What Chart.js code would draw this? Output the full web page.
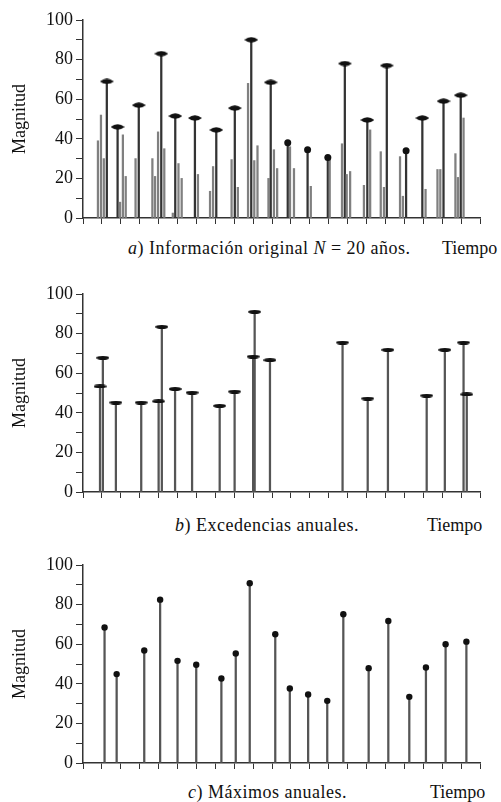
<!DOCTYPE html>
<html>
<head>
<meta charset="utf-8">
<script src="https://cdn.jsdelivr.net/npm/chart.js@4.4.0/dist/chart.umd.min.js"></script>
<style>
  body { margin: 0; background: #fff; width: 501px; height: 802px; position: relative; overflow: hidden;
         font-family: "Liberation Serif", "DejaVu Serif", serif; color: #111; }
  .box { position: absolute; left: 0; width: 501px; height: 232px; }
  .cap { position: absolute; font-size: 18px; white-space: nowrap; line-height: 1; letter-spacing: 0.5px; }
  .t { position: absolute; font-size: 18px; white-space: nowrap; line-height: 1; }
</style>
</head>
<body>
<div class="box" style="top:0"><canvas id="chart-a"></canvas></div>
<div class="box" style="top:274px"><canvas id="chart-b"></canvas></div>
<div class="box" style="top:545px"><canvas id="chart-c"></canvas></div>

<div class="cap" style="left:128px;top:239px"><i>a</i>) Información original <i>N</i> = 20 años.</div>
<div class="t" style="left:442px;top:239px">Tiempo</div>
<div class="cap" style="left:175px;top:516px"><i>b</i>) Excedencias anuales.</div>
<div class="t" style="left:427px;top:516px">Tiempo</div>
<div class="cap" style="left:188px;top:783px"><i>c</i>) Máximos anuales.</div>
<div class="t" style="left:430px;top:783px">Tiempo</div>

<script>
// a) todos los eventos (tiempo en años, magnitud)
const eventTimes = [
  0.29, 0.45, 0.60, 0.76,   1.33, 1.46, 1.61, 1.76,   2.28, 2.45,
  3.17, 3.31, 3.47, 3.64, 3.80,   4.25, 4.38, 4.55, 4.72,   5.42, 5.58,
  6.22, 6.38, 6.55,   7.36, 7.53, 7.69,   8.23, 8.40, 8.56, 8.73,
  9.31, 9.43, 9.60, 9.77,   10.33, 10.45, 10.66,   11.38, 11.55,   12.45, 12.55,
  13.20, 13.35, 13.45, 13.63,   14.36, 14.54, 14.69,   15.25, 15.42, 15.57,
  16.27, 16.42, 16.59,   17.45, 17.62,   18.25, 18.40, 18.57,   19.20, 19.33, 19.48, 19.63
];
const eventValues = [
  39, 52, 30, 69,   46, 8, 42, 21,   30, 57,
  30, 21, 43.5, 83, 35,   2.5, 51.5, 27.5, 20,   50.5, 22,
  13.5, 26, 44.5,   29.5, 55.5, 15.5,   68, 90, 29, 36.5,
  20, 68.5, 34.5, 25,   38, 36, 25,   34.5, 16,   30.5, 30,
  37.5, 78, 22, 23.5,   16.5, 49.5, 44.5,   33.5, 15.5, 77,
  31, 11, 34,   50.5, 14.5,   24.5, 24.5, 59,   32.5, 20.5, 62, 50.5
];
// a) máximo de cada año y su marca
const peakTimes  = [0.76, 1.33, 2.45, 3.64, 4.38, 5.42, 6.55, 7.53, 8.40, 9.43,
                    10.33, 11.38, 12.45, 13.35, 14.54, 15.57, 16.59, 17.45, 18.57, 19.48];
const peakValues = [69, 46, 57, 83, 51.5, 50.5, 44.5, 55.5, 90, 68.5,
                    38, 34.5, 30.5, 78, 49.5, 77, 34, 50.5, 59, 62];
const peakMarks  = ['lens', 'lens', 'lens', 'lens', 'lens', 'lens', 'lens', 'lens', 'lens', 'lens',
                    'dot', 'dot', 'dot', 'lens', 'lens', 'lens', 'dot', 'lens', 'lens', 'lens'];

// b) excedencias anuales
const excTimes  = [0.40, 0.55, 1.24, 2.58, 3.50, 3.67, 4.37, 5.27, 6.73, 7.52,
                   8.50, 8.58, 9.39, 13.23, 14.56, 15.63, 17.68, 18.64, 19.63, 19.80];
const excValues = [53.3, 67.8, 45.2, 45.2, 45.8, 83.4, 52, 50.2, 43.5, 50.7,
                   68.4, 91, 66.6, 75.5, 47.2, 71.8, 48.7, 71.8, 75.5, 49.3];

// c) máximos anuales
const maxTimes  = [0.64, 1.28, 2.74, 3.58, 4.50, 5.49, 6.82, 7.58, 8.32, 9.67,
                   10.44, 11.41, 12.42, 13.27, 14.61, 15.65, 16.76, 17.64, 18.68, 19.78];
const maxValues = [68.4, 44.9, 56.8, 82.5, 51.6, 49.6, 42.7, 55.3, 90.8, 65,
                   37.6, 34.6, 31.4, 75.1, 47.9, 71.7, 33.4, 48.2, 60, 61.3];

const serif = '"Liberation Serif", "DejaVu Serif", serif';

function lensMark(w, h, pointed) {
  const c = document.createElement('canvas');
  c.width = w; c.height = h;
  const g = c.getContext('2d');
  g.fillStyle = '#111';
  g.beginPath();
  if (pointed) {
    g.moveTo(0, h / 2);
    g.quadraticCurveTo(w / 2, -h * 0.45, w, h / 2);
    g.quadraticCurveTo(w / 2, h * 1.45, 0, h / 2);
  } else {
    g.ellipse(w / 2, h / 2, w / 2, h / 2, 0, 0, Math.PI * 2);
  }
  g.fill();
  return c;
}
const lensA = lensMark(14, 6, true);
const lensB = lensMark(13, 4, false);

function toPoints(xs, ys) {
  return xs.map((x, i) => ({ x: x, y: ys[i] }));
}

function options() {
  return {
    responsive: true,
    maintainAspectRatio: false,
    animation: false,
    layout: { padding: { left: 0, right: 21, top: 20, bottom: 0 } },
    plugins: { legend: { display: false }, tooltip: { enabled: false } },
    scales: {
      x: {
        type: 'linear', min: 0, max: 20,
        ticks: { stepSize: 1, autoSkip: false, callback: () => '', font: { size: 1 } },
        grid: { drawOnChartArea: false, tickLength: 6, color: '#333', lineWidth: 1 },
        border: { color: '#333', width: 1.5 },
        afterFit: s => { s.height = 14; }
      },
      y: {
        min: 0, max: 100,
        ticks: {
          stepSize: 10, autoSkip: false, padding: 3, color: '#111',
          font: { family: serif, size: 18 },
          callback: v => (v % 20 === 0 ? v : '')
        },
        grid: { drawOnChartArea: false, tickLength: 7, color: '#333', lineWidth: 1 },
        border: { color: '#333', width: 1.5 },
        title: { display: true, text: 'Magnitud', color: '#111', font: { family: serif, size: 18 }, padding: { top: 9 } },
        afterFit: s => { s.width = 83; }
      }
    }
  };
}

function makeChart(id, barXs, barYs, markXs, markYs, markStyle, markRadius, barColor) {
  const ctx = document.getElementById(id).getContext('2d');
  return new Chart(ctx, {
    data: {
      datasets: [{
        type: 'scatter',
        order: 0,
        data: toPoints(markXs, markYs),
        pointStyle: markStyle,
        pointRadius: markRadius,
        backgroundColor: '#111',
        borderWidth: 0,
        clip: false
      }, {
        type: 'bar',
        order: 1,
        data: toPoints(barXs, barYs),
        barThickness: 1.6,
        grouped: false,
        backgroundColor: barColor
      }]
    },
    options: options()
  });
}

// a) los tallos de los máximos más oscuros
makeChart('chart-a', eventTimes, eventValues, peakTimes, peakValues,
  c => (peakMarks[c.dataIndex] === 'dot' ? 'circle' : lensA), 3.5,
  c => (peakTimes.includes(eventTimes[c.dataIndex]) ? '#333' : '#808080'));

makeChart('chart-b', excTimes, excValues, excTimes, excValues, lensB, 3, '#555');

makeChart('chart-c', maxTimes, maxValues, maxTimes, maxValues, 'circle', 3.2, '#555');
</script>
</body>
</html>
